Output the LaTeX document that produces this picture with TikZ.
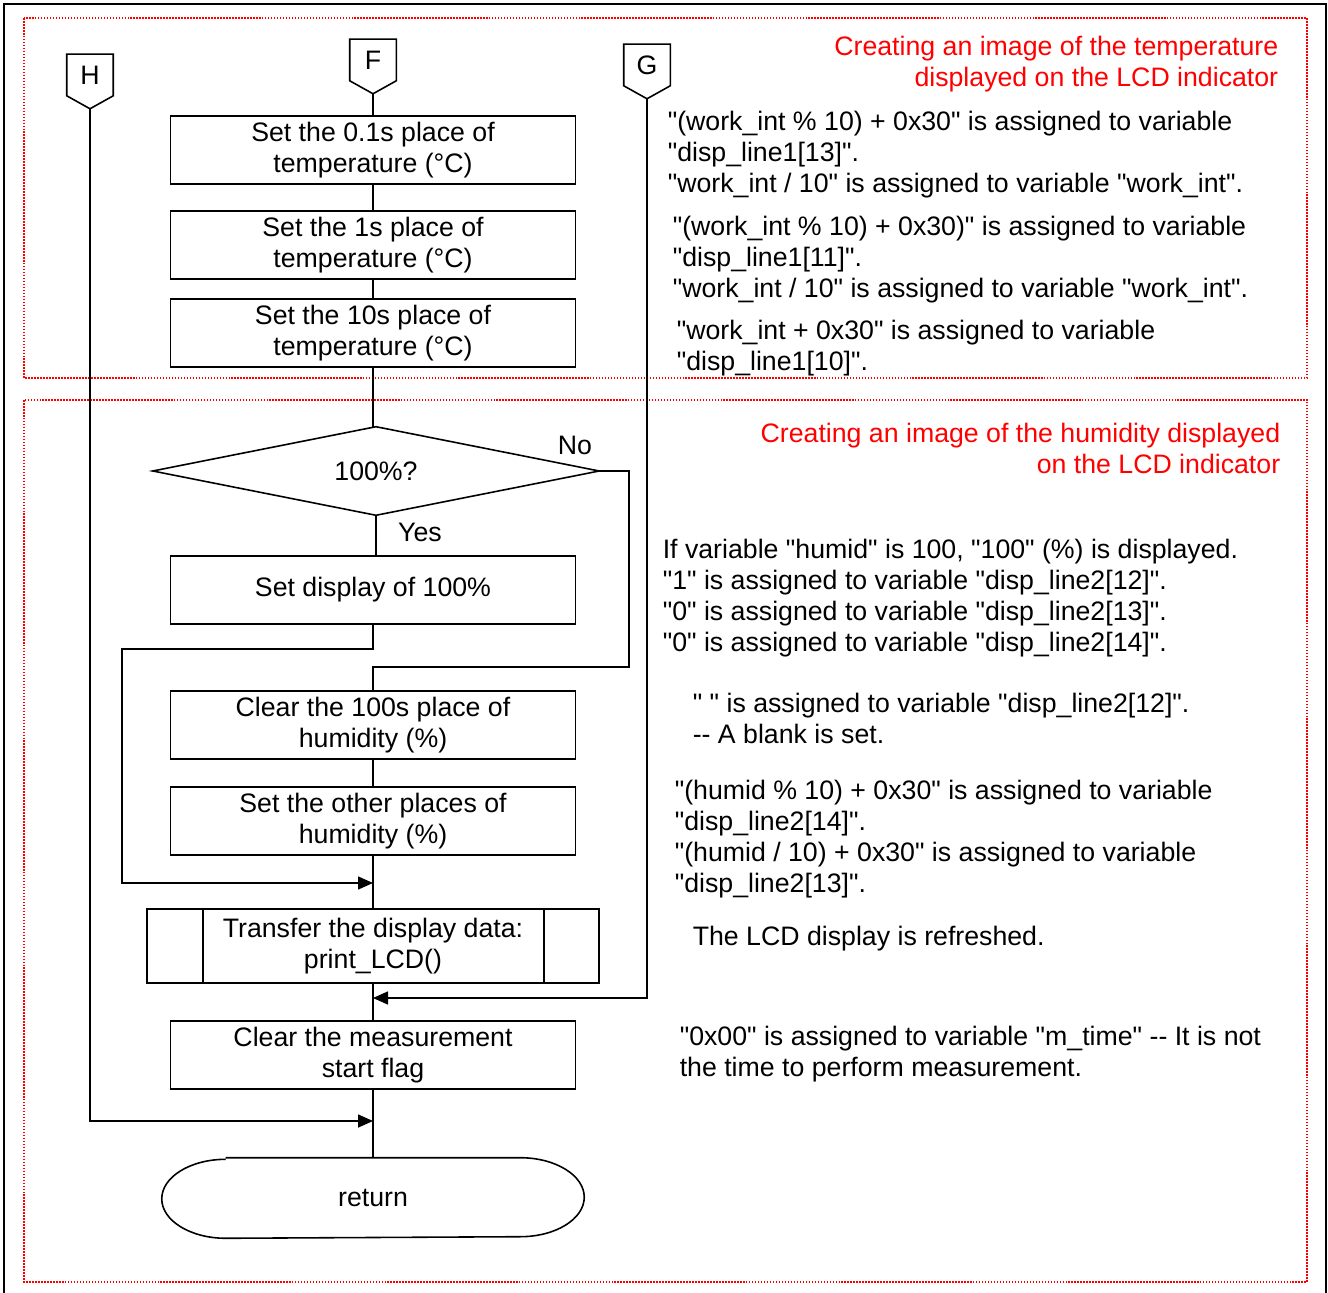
\documentclass[tikz,border=0pt]{standalone}
\usepackage{fontspec}
\setmainfont{Liberation Sans}[Ligatures=TeXOff]
\usetikzlibrary{arrows.meta}

\begin{document}
\begin{tikzpicture}[x=0.02cm, y=-0.02cm, line width=0.9pt,
  every node/.style={font=\fontsize{15.2pt}{17.6pt}\selectfont, inner sep=0pt},
  proc/.style={draw, rectangle, minimum width=8.1cm, minimum height=1.36cm, align=center},
  offpage/.style={rectangle, minimum width=0.9cm, minimum height=0.8cm},
  note/.style={anchor=west, align=left},
  title/.style={anchor=east, align=right, text=red},
  area/.style={red, dash pattern=on 0.9pt off 0.8pt, line width=0.9pt},
  arr/.style={-{Triangle[length=0.3cm,width=0.26cm]}}]
\useasboundingbox (0,0) rectangle (1328,1293);

% frame and the two areas
\draw[line width=1.5pt] (4,1293) -- (4,4) -- (1326,4) -- (1326,1293);
\draw[area] (24,18) rectangle (1307,378);
\draw[area] (24,400) rectangle (1307,1282);

% off-page connectors
\node[offpage] (H) at (90,75) {H};
\node[offpage] (F) at (373,60) {F};
\node[offpage] (G) at (647,65) {G};
\foreach \c in {H,F,G} {
  \coordinate (\c tip) at ([yshift=-0.26cm]\c.south);
  \draw (\c.north west) -- (\c.north east) -- (\c.south east) -- (\c tip)
    -- (\c.south west) -- cycle;
}

% temperature
\node[proc] (tenth) at (373,150) {Set the 0.1s place of\\temperature (°C)};
\node[proc] (ones) at (373,245) {Set the 1s place of\\temperature (°C)};
\node[proc] (tens) at (373,333) {Set the 10s place of\\temperature (°C)};

% humidity
\node[minimum width=8.9cm, minimum height=1.74cm] (full) at (376,471) {100\%?};
\draw (full.west) -- (full.north) -- (full.east) -- (full.south) -- cycle;
\node[proc] (hundred) at (373,590) {Set display of 100\%};
\node[proc] (clr) at (373,725) {Clear the 100s place of\\humidity (\%)};
\node[proc] (other) at (373,821) {Set the other places of\\humidity (\%)};
\node[draw, rectangle, minimum width=9.04cm, minimum height=1.48cm, align=center] (lcd) at (373,946)
  {Transfer the display data:\\print\_LCD()};
\draw ([xshift=1.14cm]lcd.north west) -- ([xshift=1.14cm]lcd.south west);
\draw ([xshift=-1.12cm]lcd.north east) -- ([xshift=-1.12cm]lcd.south east);
\node[proc] (flag) at (373,1055) {Clear the measurement\\start flag};
\node[minimum width=8.42cm, minimum height=1.58cm] (ret) at (373,1198) {return};
\draw ([xshift=1.28cm]ret.north west) -- ([xshift=-1.28cm]ret.north east)
  arc[start angle=90, end angle=-90, x radius=1.28cm, y radius=0.79cm]
  -- ([xshift=1.28cm]ret.south west)
  arc[start angle=270, end angle=90, x radius=1.28cm, y radius=0.79cm];

\node (no) at (575,445) {No};
\node (yes) at (420,532) {Yes};

\coordinate (nobend) at (629,667);
\coordinate (j1) at (373,883);
\coordinate (j2) at (373,998);
\coordinate (j3) at (373,1121);

% flow lines
\draw (Ftip) -- (tenth);
\draw (tenth) -- (ones);
\draw (ones) -- (tens);
\draw (tens) -- (tens |- full.north);
\draw (full.south) -- (full.south |- hundred.north);
\draw[arr] (hundred.south) -- ++(0,24) -| (122,883) -- (j1);
\draw (full.east) -| (nobend) -| (clr.north);
\draw (clr) -- (other);
\draw (other) -- (lcd);
\draw (lcd) -- (flag);
\draw[arr] (Gtip) |- (j2);
\draw (flag) -- (ret);
\draw[arr] (Htip) |- (j3);

% notes
\node[title] (ttemp) at (1279,64) {Creating an image of the temperature\\displayed on the LCD indicator};
\node[title] (thum) at (1281,448) {Creating an image of the humidity displayed\\on the LCD indicator};
\node[note] (n1) at (667,155) {"(work\_int \% 10) + 0x30" is assigned to variable\\"disp\_line1[13]".\\"work\_int / 10" is assigned to variable "work\_int".};
\node[note] (n2) at (672,260) {"(work\_int \% 10) + 0x30)" is assigned to variable\\"disp\_line1[11]".\\"work\_int / 10" is assigned to variable "work\_int".};
\node[note] (n3) at (676,348) {"work\_int + 0x30" is assigned to variable\\"disp\_line1[10]".};
\node[note] (n4) at (662,598) {If variable "humid" is 100, "100" (\%) is displayed.\\"1" is assigned to variable "disp\_line2[12]".\\"0" is assigned to variable "disp\_line2[13]".\\"0" is assigned to variable "disp\_line2[14]".};
\node[note] (n5) at (692,718) {"~" is assigned to variable "disp\_line2[12]".\\-- A blank is set.};
\node[note] (n6) at (674,839) {"(humid \% 10) + 0x30" is assigned to variable\\"disp\_line2[14]".\\"(humid / 10) + 0x30" is assigned to variable\\"disp\_line2[13]".};
\node[note] (n7) at (692,939) {The LCD display is refreshed.};
\node[note] (n8) at (679,1054) {"0x00" is assigned to variable "m\_time" -- It is not\\the time to perform measurement.};
\end{tikzpicture}
\end{document}
